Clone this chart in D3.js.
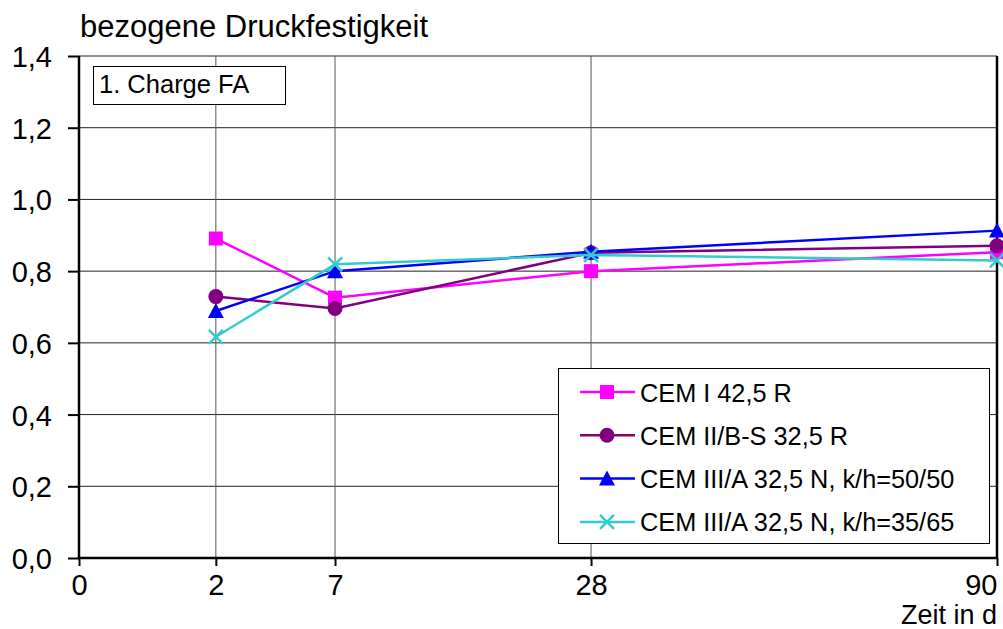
<!DOCTYPE html>
<html>
<head>
<meta charset="utf-8">
<script src="https://cdn.jsdelivr.net/npm/d3@7"></script>
<style>
  body { margin: 0; background: #fff; }
  svg { display: block; font-family: "Liberation Sans", Arial, sans-serif; }
</style>
</head>
<body>
<svg id="chart" width="1003" height="629"></svg>
<script>
// Data
const days = [2, 7, 28, 90];
const xTicks = [0, 2, 7, 28, 90];
const yTicks = [0, 0.2, 0.4, 0.6, 0.8, 1.0, 1.2, 1.4];

const cem1 = [0.891, 0.726, 0.800, 0.853];
const cem2 = [0.729, 0.696, 0.851, 0.871];
const cem3a = [0.689, 0.800, 0.854, 0.913];
const cem3b = [0.617, 0.819, 0.845, 0.830];

const seriesNames = [
    "CEM I 42,5 R",
    "CEM II/B-S 32,5 R",
    "CEM III/A 32,5 N, k/h=50/50",
    "CEM III/A 32,5 N, k/h=35/65"
];

const series = [
    { name: seriesNames[0], values: cem1, color: "#ff00ff", marker: "square" },
    { name: seriesNames[1], values: cem2, color: "#800080", marker: "circle" },
    { name: seriesNames[2], values: cem3a, color: "#0000ff", marker: "triangle" },
    { name: seriesNames[3], values: cem3b, color: "#33cccc", marker: "cross" }
];

const svg = d3.select("#chart");
const plotL = 79, plotR = 997, plotT = 56, plotB = 558;

// x axis is a square-root scale (0, 2, 7, 28, 90 days)
const x = d3.scalePow().exponent(0.5).domain([0, 90]).range([plotL, plotR]);
const y = d3.scaleLinear().domain([0, 1.4]).range([plotB, plotT]);

const de = d3.formatLocale({ decimal: ",", thousands: ".", grouping: [3], currency: ["", "€"] });
const fmt = de.format(".1f");

// gridlines
svg.append("g")
    .selectAll("line")
    .data(yTicks.slice(1))
    .join("line")
    .attr("x1", plotL).attr("x2", plotR)
    .attr("y1", d => y(d)).attr("y2", d => y(d))
    .attr("stroke", "#222")
    .attr("stroke-width", 1);

svg.append("g")
    .selectAll("line")
    .data([2, 7, 28])
    .join("line")
    .attr("x1", d => x(d)).attr("x2", d => x(d))
    .attr("y1", plotT).attr("y2", plotB)
    .attr("stroke", "#555")
    .attr("stroke-width", 1);

// right border
svg.append("line")
    .attr("x1", plotR).attr("x2", plotR)
    .attr("y1", plotT).attr("y2", plotB)
    .attr("stroke", "#000")
    .attr("stroke-width", 2.5);

// axes
const yAxis = svg.append("g")
    .attr("transform", `translate(${plotL},0)`)
    .call(d3.axisLeft(y).tickValues(yTicks).tickFormat(fmt).tickSize(11).tickPadding(16));

const xAxis = svg.append("g")
    .attr("transform", `translate(0,${plotB})`)
    .call(d3.axisBottom(x).tickValues(xTicks).tickFormat(d3.format("d")).tickSize(8).tickPadding(8));

[yAxis, xAxis].forEach(a => {
    a.select(".domain").remove();
    a.selectAll(".tick line").attr("stroke", "#000").attr("stroke-width", 2);
    a.selectAll("text").attr("fill", "#000").style("font-size", "29px")
        .style("font-family", "'Liberation Sans', Arial, sans-serif");
});
yAxis.selectAll("text").attr("dy", "0.36em");
xAxis.selectAll(".tick").filter(d => d === 90).select("text").attr("text-anchor", "end").attr("x", 0);

svg.append("line")
    .attr("x1", plotL).attr("x2", plotL)
    .attr("y1", plotT).attr("y2", plotB + 1)
    .attr("stroke", "#000").attr("stroke-width", 2.5);
svg.append("line")
    .attr("x1", plotL - 1).attr("x2", plotR + 1)
    .attr("y1", plotB).attr("y2", plotB)
    .attr("stroke", "#000").attr("stroke-width", 2.5);

// titles
svg.append("text")
    .attr("x", 80).attr("y", 37)
    .style("font-size", "31px")
    .text("bezogene Druckfestigkeit");

svg.append("text")
    .attr("x", 997).attr("y", 624)
    .attr("text-anchor", "end")
    .style("font-size", "27px")
    .text("Zeit in d");

// label box
svg.append("rect")
    .attr("x", 93.5).attr("y", 66.5)
    .attr("width", 192).attr("height", 38)
    .attr("fill", "#fff").attr("stroke", "#000").attr("stroke-width", 1);
svg.append("text")
    .attr("x", 99).attr("y", 93)
    .style("font-size", "25.5px")
    .text("1. Charge FA");

// markers
function drawMarker(g, type, color, cx, cy) {
    if (type === "square") {
        g.append("rect").attr("x", cx - 7).attr("y", cy - 7).attr("width", 14).attr("height", 14).attr("fill", color);
    } else if (type === "circle") {
        g.append("circle").attr("cx", cx).attr("cy", cy).attr("r", 7.5).attr("fill", color);
    } else if (type === "triangle") {
        g.append("path").attr("d", `M${cx},${cy - 8}L${cx + 8},${cy + 7}L${cx - 8},${cy + 7}Z`).attr("fill", color);
    } else {
        g.append("path").attr("d", `M${cx - 7},${cy - 7}L${cx + 7},${cy + 7}M${cx - 7},${cy + 7}L${cx + 7},${cy - 7}`)
            .attr("stroke", color).attr("stroke-width", 2.5).attr("fill", "none");
    }
}

const line = d3.line().x((d, i) => x(days[i])).y(d => y(d));

series.forEach(s => {
    const g = svg.append("g");
    g.append("path")
        .attr("d", line(s.values))
        .attr("fill", "none")
        .attr("stroke", s.color)
        .attr("stroke-width", 2.5);
    s.values.forEach((v, i) => drawMarker(g, s.marker, s.color, x(days[i]), y(v)));
});

// legend
const legend = svg.append("g");
legend.append("rect")
    .attr("x", 558.5).attr("y", 368.5)
    .attr("width", 431).attr("height", 175)
    .attr("fill", "#fff").attr("stroke", "#000").attr("stroke-width", 1);

series.forEach((s, i) => {
    const ly = 392 + i * 43.3;
    const g = legend.append("g");
    g.append("line")
        .attr("x1", 580).attr("x2", 635)
        .attr("y1", ly).attr("y2", ly)
        .attr("stroke", s.color).attr("stroke-width", 2.5);
    drawMarker(g, s.marker, s.color, 607, ly);
    g.append("text")
        .attr("x", 640).attr("y", ly + 9.5)
        .style("font-size", "25.3px")
        .text(s.name);
});
</script>
</body>
</html>
